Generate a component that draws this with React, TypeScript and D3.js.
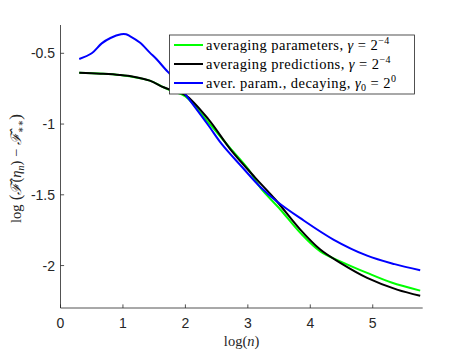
import React from "react";
import * as d3 from "d3";

const xTicks = [0, 1, 2, 3, 4, 5];
const yTicks = [-2, -1.5, -1, -0.5];
const yTickLabels = ["-2", "-1.5", "-1", "-0.5"];

const greenX = [0.3, 0.95, 1.43, 1.65, 1.8, 2.0, 2.37, 2.69, 3.01, 3.2, 3.52, 3.84, 4.16, 4.48, 4.91, 5.3, 5.76];
const greenY = [-0.637, -0.653, -0.693, -0.74, -0.768, -0.805, -0.99, -1.156, -1.32, -1.45, -1.604, -1.769, -1.9, -1.97, -2.052, -2.12, -2.177];

const blackX = [0.3, 0.64, 0.95, 1.17, 1.43, 1.65, 1.8, 2.0, 2.37, 2.74, 3.12, 3.44, 3.84, 4.16, 4.48, 4.91, 5.39, 5.76];
const blackY = [-0.637, -0.644, -0.653, -0.665, -0.693, -0.74, -0.765, -0.795, -0.967, -1.19, -1.38, -1.533, -1.746, -1.887, -1.981, -2.087, -2.17, -2.213];

const blueX = [0.3, 0.5, 0.66, 0.8, 0.97, 1.05, 1.11, 1.27, 1.43, 1.54, 1.68, 1.75, 2.0, 2.37, 2.58, 2.9, 3.2, 3.46, 3.84, 4.37, 4.91, 5.35, 5.76];
const blueY = [-0.54, -0.5, -0.43, -0.392, -0.366, -0.366, -0.378, -0.424, -0.495, -0.542, -0.613, -0.645, -0.79, -1.01, -1.14, -1.3, -1.445, -1.545, -1.665, -1.816, -1.93, -1.99, -2.033];

const seriesNames = ["green", "black", "blue"];
const seriesColors = ["#00ff00", "#000000", "#0000ff"];

const W = 467;
const H = 350;
const L = 60.5;
const R = 422.7;
const T = 25;
const B = 308;

export default function App() {
  const x = d3.scaleLinear().domain([0, 5.8]).range([L, R]);
  const y = d3.scaleLinear().domain([-2.3, -0.3]).range([B, T]);
  const line = d3
    .line<[number, number]>()
    .x((d) => x(d[0]))
    .y((d) => y(d[1]))
    .curve(d3.curveCatmullRom.alpha(0.5));

  const series = [
    { xs: greenX, ys: greenY },
    { xs: blackX, ys: blackY },
    { xs: blueX, ys: blueY },
  ].map((s, i) => ({
    name: seriesNames[i],
    color: seriesColors[i],
    pts: s.xs.map((v, j) => [v, s.ys[j]] as [number, number]),
  }));

  const axisColor = "#262626";
  const serif = "'Liberation Serif', 'DejaVu Serif', serif";
  const sans = "'Liberation Sans', Arial, sans-serif";

  const legX = 169.5;
  const legY = 35;
  const legW = 245;
  const legH = 59;
  const rowY = [45, 64, 83];
  const legFont = 14.5;
  const ls = 0.45;

  return (
    <svg width={W} height={H} style={{ position: "absolute", left: 0, top: 0, background: "#fff" }}>
      <rect x={0} y={0} width={W} height={H} fill="#fff" />
      {series.map((s) => (
        <path key={s.name} d={line(s.pts) || ""} fill="none" stroke={s.color} strokeWidth={2} />
      ))}
      {/* axes */}
      <line x1={L} y1={T} x2={L} y2={B} stroke={axisColor} strokeWidth={0.8} />
      <line x1={L} y1={B} x2={R} y2={B} stroke={axisColor} strokeWidth={0.8} />
      {xTicks.map((t) => (
        <g key={"xt" + t}>
          <line x1={x(t)} x2={x(t)} y1={B} y2={B - 3.6} stroke={axisColor} strokeWidth={0.8} />
          <text x={x(t)} y={328} textAnchor="middle" fontFamily={sans} fontSize={14} fill={axisColor}>
            {t}
          </text>
        </g>
      ))}
      {yTicks.map((t, i) => (
        <g key={"yt" + t}>
          <line x1={L} x2={L + 3.6} y1={y(t)} y2={y(t)} stroke={axisColor} strokeWidth={0.8} />
          <text x={55} y={y(t) + 5} textAnchor="end" fontFamily={sans} fontSize={14} fill={axisColor}>
            {yTickLabels[i]}
          </text>
        </g>
      ))}
      {/* x label */}
      <text x={(L + R) / 2} y={346} textAnchor="middle" fontFamily={serif} fontSize={14.5} fill={axisColor}>
        log(<tspan fontStyle="italic">n</tspan>)
      </text>
      {/* y label */}
      <text
        transform={`translate(21,${(T + B) / 2 + 2}) rotate(-90)`}
        textAnchor="middle"
        fontFamily={serif}
        fontSize={14.5}
        fill={axisColor}
      >
        log
        <tspan fontSize={17}> (</tspan>
        <tspan fontStyle="italic">{"\u2131\u0302"}</tspan>(<tspan fontStyle="italic">η</tspan>
        <tspan fontSize={10} dy={3} fontStyle="italic">n</tspan>
        <tspan dy={-3}>) − </tspan>
        <tspan fontStyle="italic">{"\u2131\u0302"}</tspan>
        <tspan fontSize={10} dy={3}>∗∗</tspan>
        <tspan fontSize={17} dy={-3}>)</tspan>
      </text>
      {/* legend */}
      <rect x={legX} y={legY} width={legW} height={legH} fill="#fff" stroke="#262626" strokeWidth={0.8} />
      {series.map((s, i) => (
        <g key={"lg" + s.name}>
          <line x1={174} x2={203} y1={rowY[i]} y2={rowY[i]} stroke={s.color} strokeWidth={2} />
        </g>
      ))}
      <text x={206} y={rowY[0] + 4.5} fontFamily={serif} fontSize={legFont} letterSpacing={ls} fill="#000">
        averaging parameters, <tspan fontStyle="italic">γ</tspan> = 2
        <tspan fontSize={10} dy={-6}>−4</tspan>
      </text>
      <text x={206} y={rowY[1] + 4.5} fontFamily={serif} fontSize={legFont} letterSpacing={ls} fill="#000">
        averaging predictions, <tspan fontStyle="italic">γ</tspan> = 2
        <tspan fontSize={10} dy={-6}>−4</tspan>
      </text>
      <text x={206} y={rowY[2] + 4.5} fontFamily={serif} fontSize={legFont} letterSpacing={ls} fill="#000">
        aver. param., decaying, <tspan fontStyle="italic">γ</tspan>
        <tspan fontSize={10} dy={3}>0</tspan>
        <tspan dy={-3}> = 2</tspan>
        <tspan fontSize={10} dy={-6}>0</tspan>
      </text>
    </svg>
  );
}
